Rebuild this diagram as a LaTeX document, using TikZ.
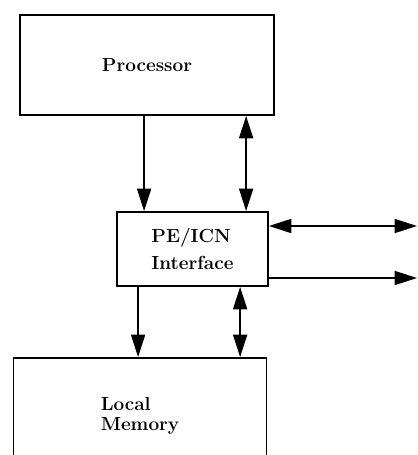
\documentclass[tikz,border=0pt]{standalone}
\usetikzlibrary{arrows.meta}
\begin{document}
\begin{tikzpicture}[x=0.025cm,y=-0.025cm,>={Triangle[length=16pt,width=10pt]},
  unit/.style={draw,line width=1.3pt,font=\fontsize{13.5}{17}\bfseries,align=left},
  link/.style={line width=1.3pt}]
  \useasboundingbox (0,0) rectangle (417,455);
  \clip (0,0) rectangle (417,455);

  \node[unit,minimum width=6.35cm,minimum height=2.5cm] (proc) at (147,65) {Processor};
  \node[unit,minimum width=3.775cm,minimum height=1.85cm] (pe) at (192.5,249) {PE/ICN\\[2pt]Interface};
  \node[unit,minimum width=6.325cm,minimum height=2.9cm] (mem) at (140,416) {Local\\[-3pt]Memory};

  \coordinate (net1) at (417,226);
  \coordinate (net2) at (417,278);

  \draw[link,->] ([xshift=-1.21cm]pe.north |- proc.south) -- ([xshift=-1.21cm]pe.north);
  \draw[link,<->] ([xshift=1.34cm]pe.north |- proc.south) -- ([xshift=1.34cm]pe.north);
  \draw[link,->] ([xshift=-1.36cm]pe.south) -- ([xshift=-1.36cm]pe.south |- mem.north);
  \draw[link,<->] ([xshift=1.19cm]pe.south) -- ([xshift=1.19cm]pe.south |- mem.north);
  \draw[link,<->] (pe.east |- net1) -- (net1);
  \draw[link,->] (pe.east |- net2) -- (net2);
\end{tikzpicture}
\end{document}
